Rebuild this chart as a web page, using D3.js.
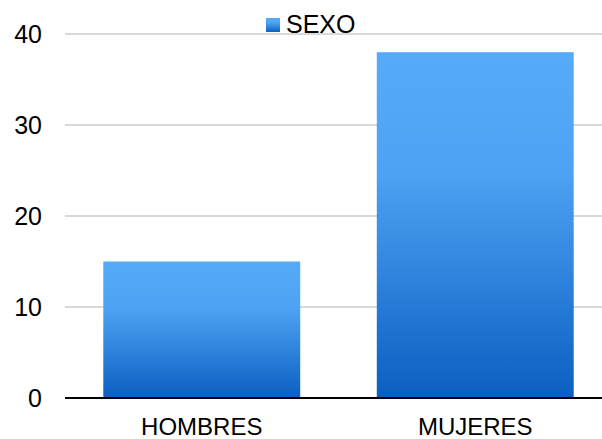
<!DOCTYPE html>
<html>
<head>
<meta charset="utf-8">
<script src="https://cdn.jsdelivr.net/npm/d3@7"></script>
<style>
  body { margin: 0; background: #fff; }
  text { font-family: "Liberation Sans", Arial, sans-serif; fill: #000; }
</style>
</head>
<body>
<div id="chart"></div>
<script>
const categories = ["HOMBRES", "MUJERES"];
const values = [15, 38];
const seriesName = "SEXO";
const yTicks = [0, 10, 20, 30, 40];

const width = 602, height = 439;
const margin = { top: 34, left: 65, bottom: 41 };

let svg = d3.select("#chart").append("svg")
    .attr("width", width)
    .attr("height", height);

let defs = svg.append("defs");
let grad = defs.append("linearGradient")
    .attr("id", "barGrad")
    .attr("x1", 0).attr("y1", 0)
    .attr("x2", 0).attr("y2", 1);
grad.append("stop").attr("offset", "0%").attr("stop-color", "#55abfa");
grad.append("stop").attr("offset", "35%").attr("stop-color", "#4ea2f3");
grad.append("stop").attr("offset", "100%").attr("stop-color", "#0a5fc1");

let x = d3.scaleBand()
    .domain(categories)
    .range([margin.left, 612])
    .paddingInner(0.28)
    .paddingOuter(0.14);

let y = d3.scaleLinear()
    .domain([0, 40])
    .range([height - margin.bottom, margin.top]);

// gridlines
svg.append("g")
    .selectAll("line")
    .data(yTicks.filter(d => d > 0))
    .enter().append("line")
    .attr("x1", margin.left)
    .attr("x2", width)
    .attr("y1", d => y(d))
    .attr("y2", d => y(d))
    .attr("stroke", "#b3b3b3")
    .attr("stroke-width", 1);

// y labels
svg.append("g")
    .selectAll("text")
    .data(yTicks)
    .enter().append("text")
    .attr("x", 42)
    .attr("y", d => y(d))
    .attr("dy", "0.36em")
    .attr("text-anchor", "end")
    .attr("font-size", "25px")
    .text(d => d);

// bars
svg.append("g")
    .selectAll("rect")
    .data(values)
    .enter().append("rect")
    .attr("x", (d, i) => x(categories[i]))
    .attr("width", x.bandwidth())
    .attr("y", d => y(d))
    .attr("height", d => y(0) - y(d))
    .attr("fill", "url(#barGrad)");

// baseline
svg.append("line")
    .attr("x1", margin.left)
    .attr("x2", width)
    .attr("y1", y(0))
    .attr("y2", y(0))
    .attr("stroke", "#000")
    .attr("stroke-width", 2);

// x labels
svg.append("g")
    .selectAll("text")
    .data(categories)
    .enter().append("text")
    .attr("x", d => x(d) + x.bandwidth() / 2)
    .attr("y", 435)
    .attr("text-anchor", "middle")
    .attr("font-size", "24px")
    .text(d => d);

// legend
let legend = svg.append("g").attr("transform", "translate(266, 18)");
legend.append("rect")
    .attr("width", 14)
    .attr("height", 14)
    .attr("fill", "url(#barGrad)");
legend.append("text")
    .attr("x", 20)
    .attr("y", 15)
    .attr("font-size", "25px")
    .text(seriesName);
</script>
</body>
</html>
